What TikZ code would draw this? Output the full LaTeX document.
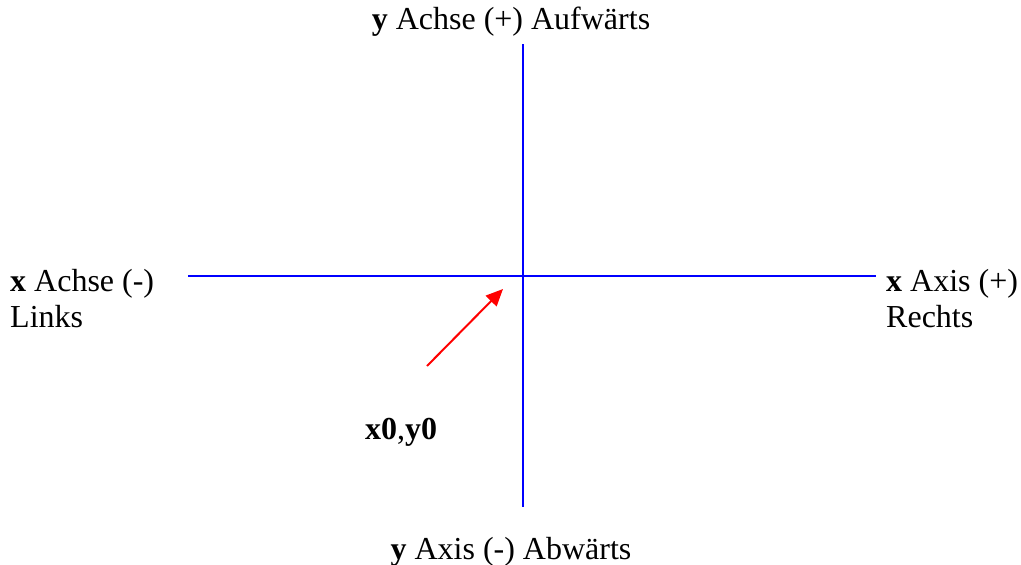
\documentclass[tikz,border=0pt]{standalone}
\usepackage{fontspec}
\setmainfont{Liberation Serif}
\usetikzlibrary{arrows.meta}

\begin{document}
\begin{tikzpicture}[x=1pt,y=-1pt,
  achse/.style={blue,line width=2pt},
  lbl/.style={inner sep=0pt,font=\fontsize{32}{36}\selectfont,align=left}]
\useasboundingbox (0,0) rectangle (1021,565);
\coordinate (W) at (188,276);
\coordinate (E) at (876,276);
\coordinate (N) at (523,44);
\coordinate (S) at (523,507);
\coordinate (P) at (427,366);
\coordinate (O) at (503,289);
\draw[achse] (W) -- (E);
\draw[achse] (N) -- (S);
\draw[red,line width=2pt,-{Triangle[length=17pt,width=15pt]}] (P) -- (O);
\node[lbl,anchor=base] (top) at (511,29) {\textbf{y} Achse (+) Aufwärts};
\node[lbl,anchor=base] (bot) at (511,559) {\textbf{y} Axis (-) Abwärts};
% base = baseline of the last line
\node[lbl,anchor=base west] (links) at (10,327) {\textbf{x} Achse (-)\\Links};
\node[lbl,anchor=base west] (rechts) at (886,327) {\textbf{x} Axis (+)\\Rechts};
\node[lbl,anchor=base west] (null) at (365,439) {\textbf{x0},\textbf{y0}};
\end{tikzpicture}
\end{document}
